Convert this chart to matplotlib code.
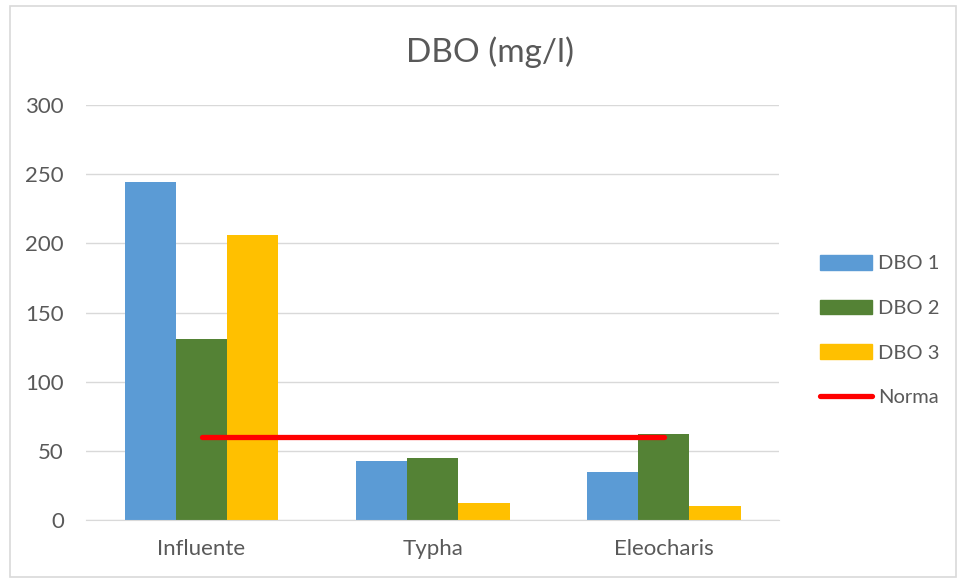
import matplotlib.pyplot as plt
import numpy as np
from matplotlib.patches import Rectangle
from matplotlib.lines import Line2D
from matplotlib.patches import Patch

categories = ["Influente", "Typha", "Eleocharis"]
dbo1 = [244, 43, 35]
dbo2 = [131, 45, 62]
dbo3 = [206, 12, 10]
norma = [60, 60, 60]
series_names = ["DBO 1", "DBO 2", "DBO 3"]
colors = ["#5B9BD5", "#548235", "#FFC000"]

plt.rcParams['font.family'] = ['Lato', 'DejaVu Sans']
TXT = "#595959"

fig = plt.figure(figsize=(9.6, 5.8), dpi=100)
ax = fig.add_axes([0.0896, 0.1034, 0.722, 0.7156])

x = np.arange(len(categories))
w = 0.222
for i, vals in enumerate([dbo1, dbo2, dbo3]):
	ax.bar(x + (i - 1)*w, vals, w, color=colors[i], zorder=2)

ax.plot(x, norma, color="#FF0000", lw=3.8, solid_capstyle="round", zorder=3)

ax.set_xlim(-0.5, 2.5)
ax.set_ylim(0, 300)
ax.set_yticks(range(0, 301, 50))
ax.set_xticks(x)
ax.set_xticklabels(categories)
ax.grid(axis="y", color="#D9D9D9", lw=1, zorder=0)
for s in ["top", "right", "left"]:
	ax.spines[s].set_visible(False)
ax.spines["bottom"].set_color("#D9D9D9")
ax.tick_params(length=0, colors=TXT, labelsize=16)
ax.tick_params(axis="x", pad=14)
ax.tick_params(axis="y", pad=16)

fig.text(0.51, 0.91, "DBO (mg/l)", fontsize=24, color=TXT, ha="center", va="center")

handles = [Patch(color=c) for c in colors]
handles.append(Line2D([0], [0], color="#FF0000", lw=3.8, solid_capstyle="round"))
fig.legend(handles, series_names + ["Norma"], loc="center left",
	bbox_to_anchor=(0.835, 0.43), frameon=False, fontsize=14.5,
	labelcolor=TXT, handlelength=2.6, handleheight=0.75,
	handletextpad=0.3, labelspacing=1.35)

fig.patches.append(Rectangle((0.0105, 0.005), 0.985, 0.985, transform=fig.transFigure,
	fill=False, edgecolor="#D9D9D9", lw=1.2))

fig.savefig("out.png", dpi=100)
